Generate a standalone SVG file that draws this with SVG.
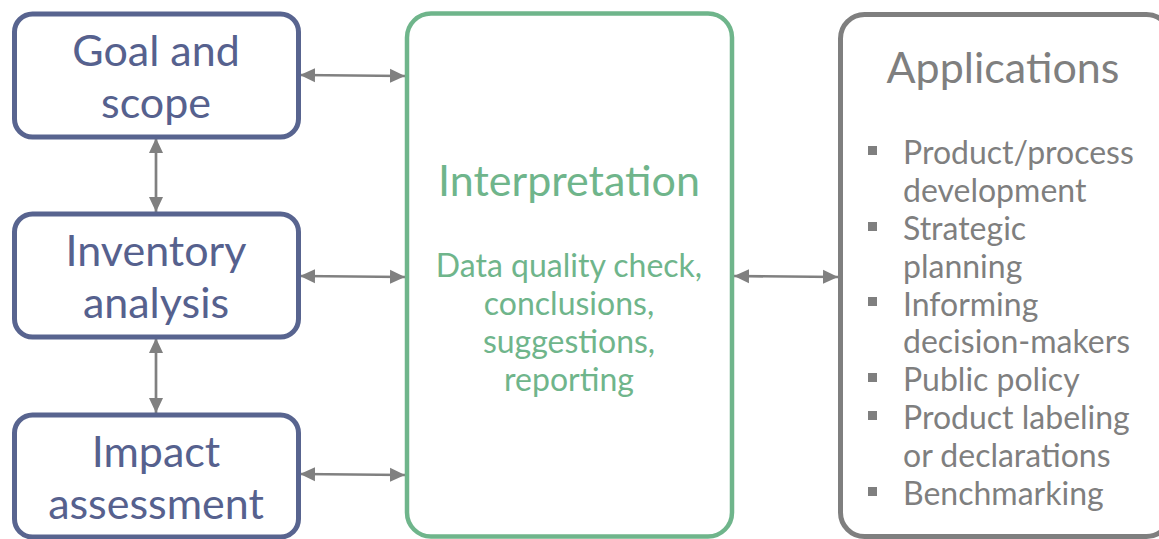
<svg xmlns="http://www.w3.org/2000/svg" width="1159" height="539" viewBox="0 0 1159 539">
<style>
.bl{fill:#fff;stroke:#58648f;stroke-width:5}
.bt{font-family:Lato,"Liberation Sans",sans-serif;font-size:43px;fill:#56618e;text-anchor:middle}
.gr{fill:#fff;stroke:#6fb58b;stroke-width:4.5}
.gt{font-family:Lato,"Liberation Sans",sans-serif;fill:#6fb58b;text-anchor:middle}
.ap{fill:#fff;stroke:#7f7f7f;stroke-width:5}
.at{font-family:Lato,"Liberation Sans",sans-serif;fill:#7f7f7f}
.li{font-size:32px}
.bu{fill:#7f7f7f}
.c{stroke:#808080;stroke-width:2.7;fill:none;marker-start:url(#a);marker-end:url(#a)}
</style>
<defs>
<marker id="a" markerUnits="userSpaceOnUse" markerWidth="15" markerHeight="15" viewBox="0 0 15 15" refX="15" refY="7.5" orient="auto-start-reverse">
<path d="M0,0.5 L15,7.5 L0,14.5 Z" fill="#808080"/>
</marker>
</defs>
<g id="connectors">
<line class="c" x1="300" y1="75" x2="405" y2="76"/>
<line class="c" x1="300" y1="276" x2="405" y2="277"/>
<line class="c" x1="300" y1="474" x2="405" y2="475"/>
<line class="c" x1="734" y1="276" x2="838" y2="277"/>
<line class="c" x1="156" y1="138" x2="156" y2="212"/>
<line class="c" x1="156" y1="338" x2="156" y2="413"/>
</g>
<g id="goal">
<rect class="bl" x="14.5" y="14" width="284" height="123" rx="18"/>
<text class="bt" x="156" y="66">Goal and</text>
<text class="bt" x="156" y="118">scope</text>
</g>
<g id="inventory">
<rect class="bl" x="14.5" y="214" width="284" height="123" rx="18"/>
<text class="bt" x="156" y="266">Inventory</text>
<text class="bt" x="156" y="318">analysis</text>
</g>
<g id="impact">
<rect class="bl" x="14.5" y="415" width="284" height="122" rx="18"/>
<text class="bt" x="156" y="467">Impact</text>
<text class="bt" x="156" y="519">assessment</text>
</g>
<g id="interpretation">
<rect class="gr" x="407" y="13.5" width="325" height="523" rx="24"/>
<text class="gt" x="569" y="196" font-size="43">Interpretation</text>
<text class="gt" x="569" y="277" font-size="32">Data quality check,</text>
<text class="gt" x="569" y="315" font-size="32">conclusions,</text>
<text class="gt" x="569" y="353" font-size="32">suggestions,</text>
<text class="gt" x="569" y="391" font-size="32">reporting</text>
</g>
<g id="applications">
<rect class="ap" x="840.5" y="14.5" width="330" height="522" rx="24"/>
<text class="at" x="1003" y="83" font-size="43" text-anchor="middle">Applications</text>
<rect class="bu" x="868" y="146" width="9" height="9"/>
<rect class="bu" x="868" y="222" width="9" height="9"/>
<rect class="bu" x="868" y="297" width="9" height="9"/>
<rect class="bu" x="868" y="373" width="9" height="9"/>
<rect class="bu" x="868" y="411" width="9" height="9"/>
<rect class="bu" x="868" y="487" width="9" height="9"/>
<text class="at li" x="903" y="164">Product/process</text>
<text class="at li" x="903" y="202">development</text>
<text class="at li" x="903" y="240">Strategic</text>
<text class="at li" x="903" y="278">planning</text>
<text class="at li" x="903" y="316">Informing</text>
<text class="at li" x="903" y="353">decision-makers</text>
<text class="at li" x="903" y="391">Public policy</text>
<text class="at li" x="903" y="429">Product labeling</text>
<text class="at li" x="903" y="467">or declarations</text>
<text class="at li" x="903" y="505">Benchmarking</text>
</g>
</svg>
